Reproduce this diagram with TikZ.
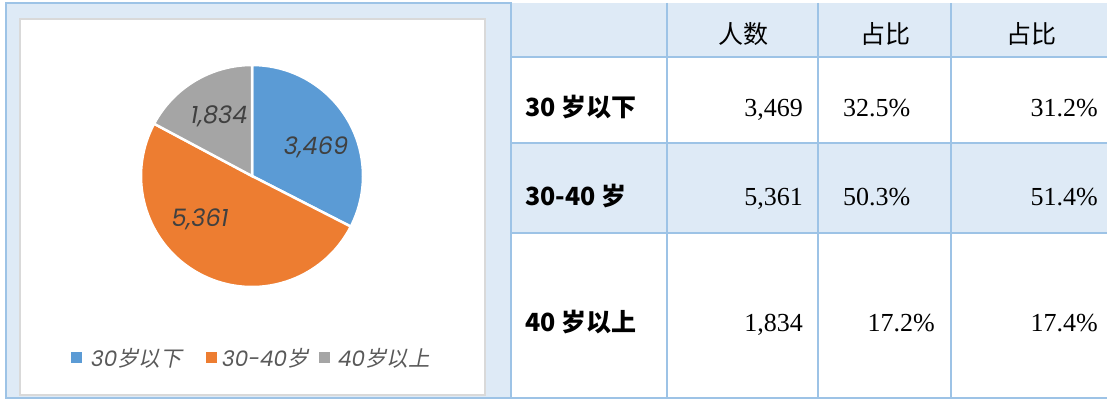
\documentclass[tikz,border=0pt]{standalone}
\usepackage{fontspec}
\setmainfont{Liberation Serif}
\newfontfamily\cjk{Noto Sans CJK SC}
\newfontfamily\cjkit[FakeSlant=0.2]{Noto Sans CJK SC}
\newfontfamily\gothic{Poppins}
\definecolor{pieblue}{HTML}{5B9BD5}
\definecolor{pieorange}{HTML}{ED7D31}
\definecolor{piegray}{HTML}{A5A5A5}
\definecolor{panelfill}{HTML}{DEEAF6}
\definecolor{gridline}{HTML}{9DC3E6}
\definecolor{boxline}{HTML}{D9D9D9}
\definecolor{labeltext}{HTML}{404040}
\definecolor{keytext}{HTML}{595959}
\def\slice[#1](#2:#3){\filldraw[fill=#1, draw=white, line width=2.5pt] (0,0) -- (#2:111) arc (#2:#3:111) -- cycle;}
\tikzset{
  pielabel/.style={inner sep=0, text=labeltext, font=\gothic\itshape\fontsize{24}{24}\selectfont},
  keybox/.style={minimum size=11pt, inner sep=0},
  keylabel/.style={anchor=base west, inner sep=0, text=keytext, font=\fontsize{21.5}{21.5}\selectfont},
  rowlabel/.style={anchor=base west, inner sep=0, font=\cjk\bfseries\fontsize{25}{25}\selectfont},
  cellnum/.style={inner sep=0, font=\fontsize{26}{26}\selectfont},
  headtext/.style={anchor=base, inner sep=0, font=\cjk\fontsize{25}{25}\selectfont},
  gridrule/.style={draw=gridline, line width=1.2pt}
}
\begin{document}
\begin{tikzpicture}[x=1pt, y=-1pt]
	\useasboundingbox (0,0) rectangle (1107,401);
	
	% chart panel
	\draw[gridrule, fill=panelfill] (6,3) rectangle (511,398);
	\draw[draw=boxline, line width=1.5pt, fill=white] (20,19) rectangle (485,395);
	
	\begin{scope}[shift={(252,176)}, y=1pt]
		\slice[pieblue](90:-27.11)
		\slice[pieorange](-27.11:-208.09)
		\slice[piegray](-208.09:-270)
	\end{scope}
	
	\node[pielabel] (valA) at (316,147) {3,469};
	\node[pielabel] (valB) at (200,219) {5,361};
	\node[pielabel] (valC) at (219,116) {1,834};
	
	% legend
	\node[keybox, fill=pieblue] (keyA) at (76,357) {};
	\node[keylabel] (keyAtext) at (91,366) {{\gothic\itshape 30}{\cjkit 岁以下}};
	\node[keybox, fill=pieorange] (keyB) at (211,357) {};
	\node[keylabel] (keyBtext) at (222,366) {{\gothic\itshape 30-40}{\cjkit 岁}};
	\node[keybox, fill=piegray] (keyC) at (324,357) {};
	\node[keylabel] (keyCtext) at (338,366) {{\gothic\itshape 40}{\cjkit 岁以上}};
	
	% table
	\fill[panelfill] (511,3) rectangle (1107,57);
	\fill[panelfill] (511,143) rectangle (1107,233);
	\draw[gridrule] (511,57) -- (1107,57);
	\draw[gridrule] (511,143) -- (1107,143);
	\draw[gridrule] (511,233) -- (1107,233);
	\draw[gridrule] (511,398) -- (1107,398);
	\draw[gridrule] (667,3) -- (667,398);
	\draw[gridrule] (818,3) -- (818,398);
	\draw[gridrule] (951,3) -- (951,398);
	\draw[gridrule, line width=1.8pt] (511,3) -- (511,398);
	
	\node[headtext] (headA) at (743,44) {人数};
	\node[headtext] (headB) at (885,44) {占比};
	\node[headtext] (headC) at (1031,44) {占比};
	
	\node[rowlabel] (rowA) at (525,117) {30 岁以下};
	\node[rowlabel] (rowB) at (525,205) {30-40 岁};
	\node[rowlabel] (rowC) at (525,331) {40 岁以上};
	
	\node[cellnum, anchor=base east] (numA) at (803,117) {3,469};
	\node[cellnum, anchor=base east] (numB) at (803,205) {5,361};
	\node[cellnum, anchor=base east] (numC) at (803,331) {1,834};
	
	\node[cellnum, anchor=base west] (shareA) at (843,117) {32.5\%};
	\node[cellnum, anchor=base west] (shareB) at (843,205) {50.3\%};
	\node[cellnum, anchor=base east] (shareC) at (935,331) {17.2\%};
	
	\node[cellnum, anchor=base east] (sampleA) at (1098,117) {31.2\%};
	\node[cellnum, anchor=base east] (sampleB) at (1098,205) {51.4\%};
	\node[cellnum, anchor=base east] (sampleC) at (1098,331) {17.4\%};
\end{tikzpicture}
\end{document}
